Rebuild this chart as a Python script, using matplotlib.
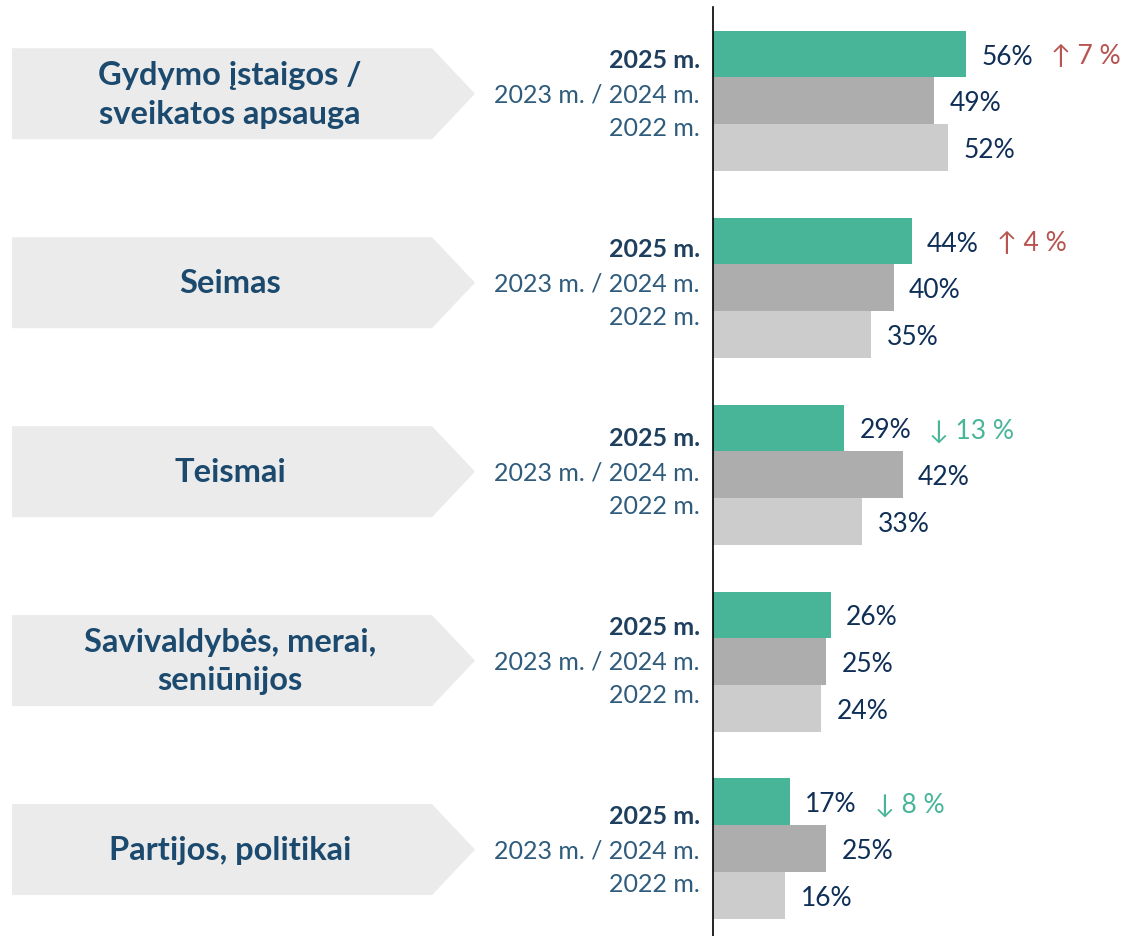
import matplotlib.pyplot as plt
import matplotlib.transforms as mtransforms
from matplotlib.patches import Polygon

###### DATA
categories = ["Gydymo įstaigos /\nsveikatos apsauga", "Seimas", "Teismai",
              "Savivaldybės, merai,\nseniūnijos", "Partijos, politikai"]
year_labels = ["2025 m.", "2023 m. / 2024 m.", "2022 m."]
vals_2025 = [56, 44, 29, 26, 17]
vals_2324 = [49, 40, 42, 25, 25]
vals_2022 = [52, 35, 33, 24, 16]
deltas = ["↑ 7 %", "↑ 4 %", "↓ 13 %", "", "↓ 8 %"]

###### STYLE
GREEN = "#48b598"
GREY = "#adadad"
LIGHT = "#cccccc"
BOX = "#ebebeb"
NAVY = "#0f2f57"
CAT_BLUE = "#1b4a6e"
YEAR_BLUE = "#2f5b7c"
RED = "#b85450"
FONT = ["Lato", "DejaVu Sans"]
plt.rcParams["font.family"] = FONT

W, H = 1132, 937
fig = plt.figure(figsize=(W / 100, H / 100), dpi=100)
ax = fig.add_axes([713 / W, 0, 1 - 713 / W, 929 / H])

series = [vals_2025, vals_2324, vals_2022]
colors = [GREEN, GREY, LIGHT]
for j, (vals, col) in enumerate(zip(series, colors)):
    ys = [4 * i + j for i in range(len(categories))]
    ax.barh(ys, vals, height=1.0, color=col, edgecolor="none")
    for y, v in zip(ys, vals):
        ax.annotate(f"{v}%", (v, y), xytext=(11, -1.5), textcoords="offset points",
                    ha="left", va="center", fontsize=19, color=NAVY)

# change markers next to the 2025 value
for i, (v, d) in enumerate(zip(vals_2025, deltas)):
    if not d:
        continue
    col = RED if d.startswith("↑") else GREEN
    ax.annotate(d, (v, 4 * i), xytext=(61, -1.5), textcoords="offset points",
                ha="left", va="center", fontsize=19, color=col)

ax.set_xlim(0, 419 / 4.52)
ax.set_ylim(18.87, -1.005)
for s in ["top", "right", "bottom"]:
    ax.spines[s].set_visible(False)
ax.spines["left"].set_color("black")
ax.spines["left"].set_linewidth(1.2)
ax.set_xticks([])
ax.set_yticks([])

# left side: arrow boxes, category names, year labels
tr = mtransforms.blended_transform_factory(fig.transFigure, ax.transData)
slot_px = 929 / (18.87 + 1.005)
half = 45.5 / slot_px
for i, cat in enumerate(categories):
    yc = 4 * i + 1 - (7 - 2 * i) / slot_px
    pts = [(12 / W, yc - half), (432 / W, yc - half), (475 / W, yc),
           (432 / W, yc + half), (12 / W, yc + half)]
    ax.add_patch(Polygon(pts, closed=True, facecolor=BOX, edgecolor="none",
                         transform=tr, clip_on=False))
    ax.text(230 / W, yc, cat, transform=tr, ha="center", va="center",
            fontsize=23.5, fontweight="bold", color=CAT_BLUE, linespacing=1.4,
            clip_on=False)
    for k, lab in enumerate(year_labels):
        ax.text(700 / W, yc + (k - 1) * 34 / slot_px, lab, transform=tr,
                ha="right", va="center", fontsize=18,
                fontweight="bold" if k == 0 else "normal",
                color="#1f3f5f" if k == 0 else YEAR_BLUE, clip_on=False)

fig.savefig("out.png", dpi=100, facecolor="white")
